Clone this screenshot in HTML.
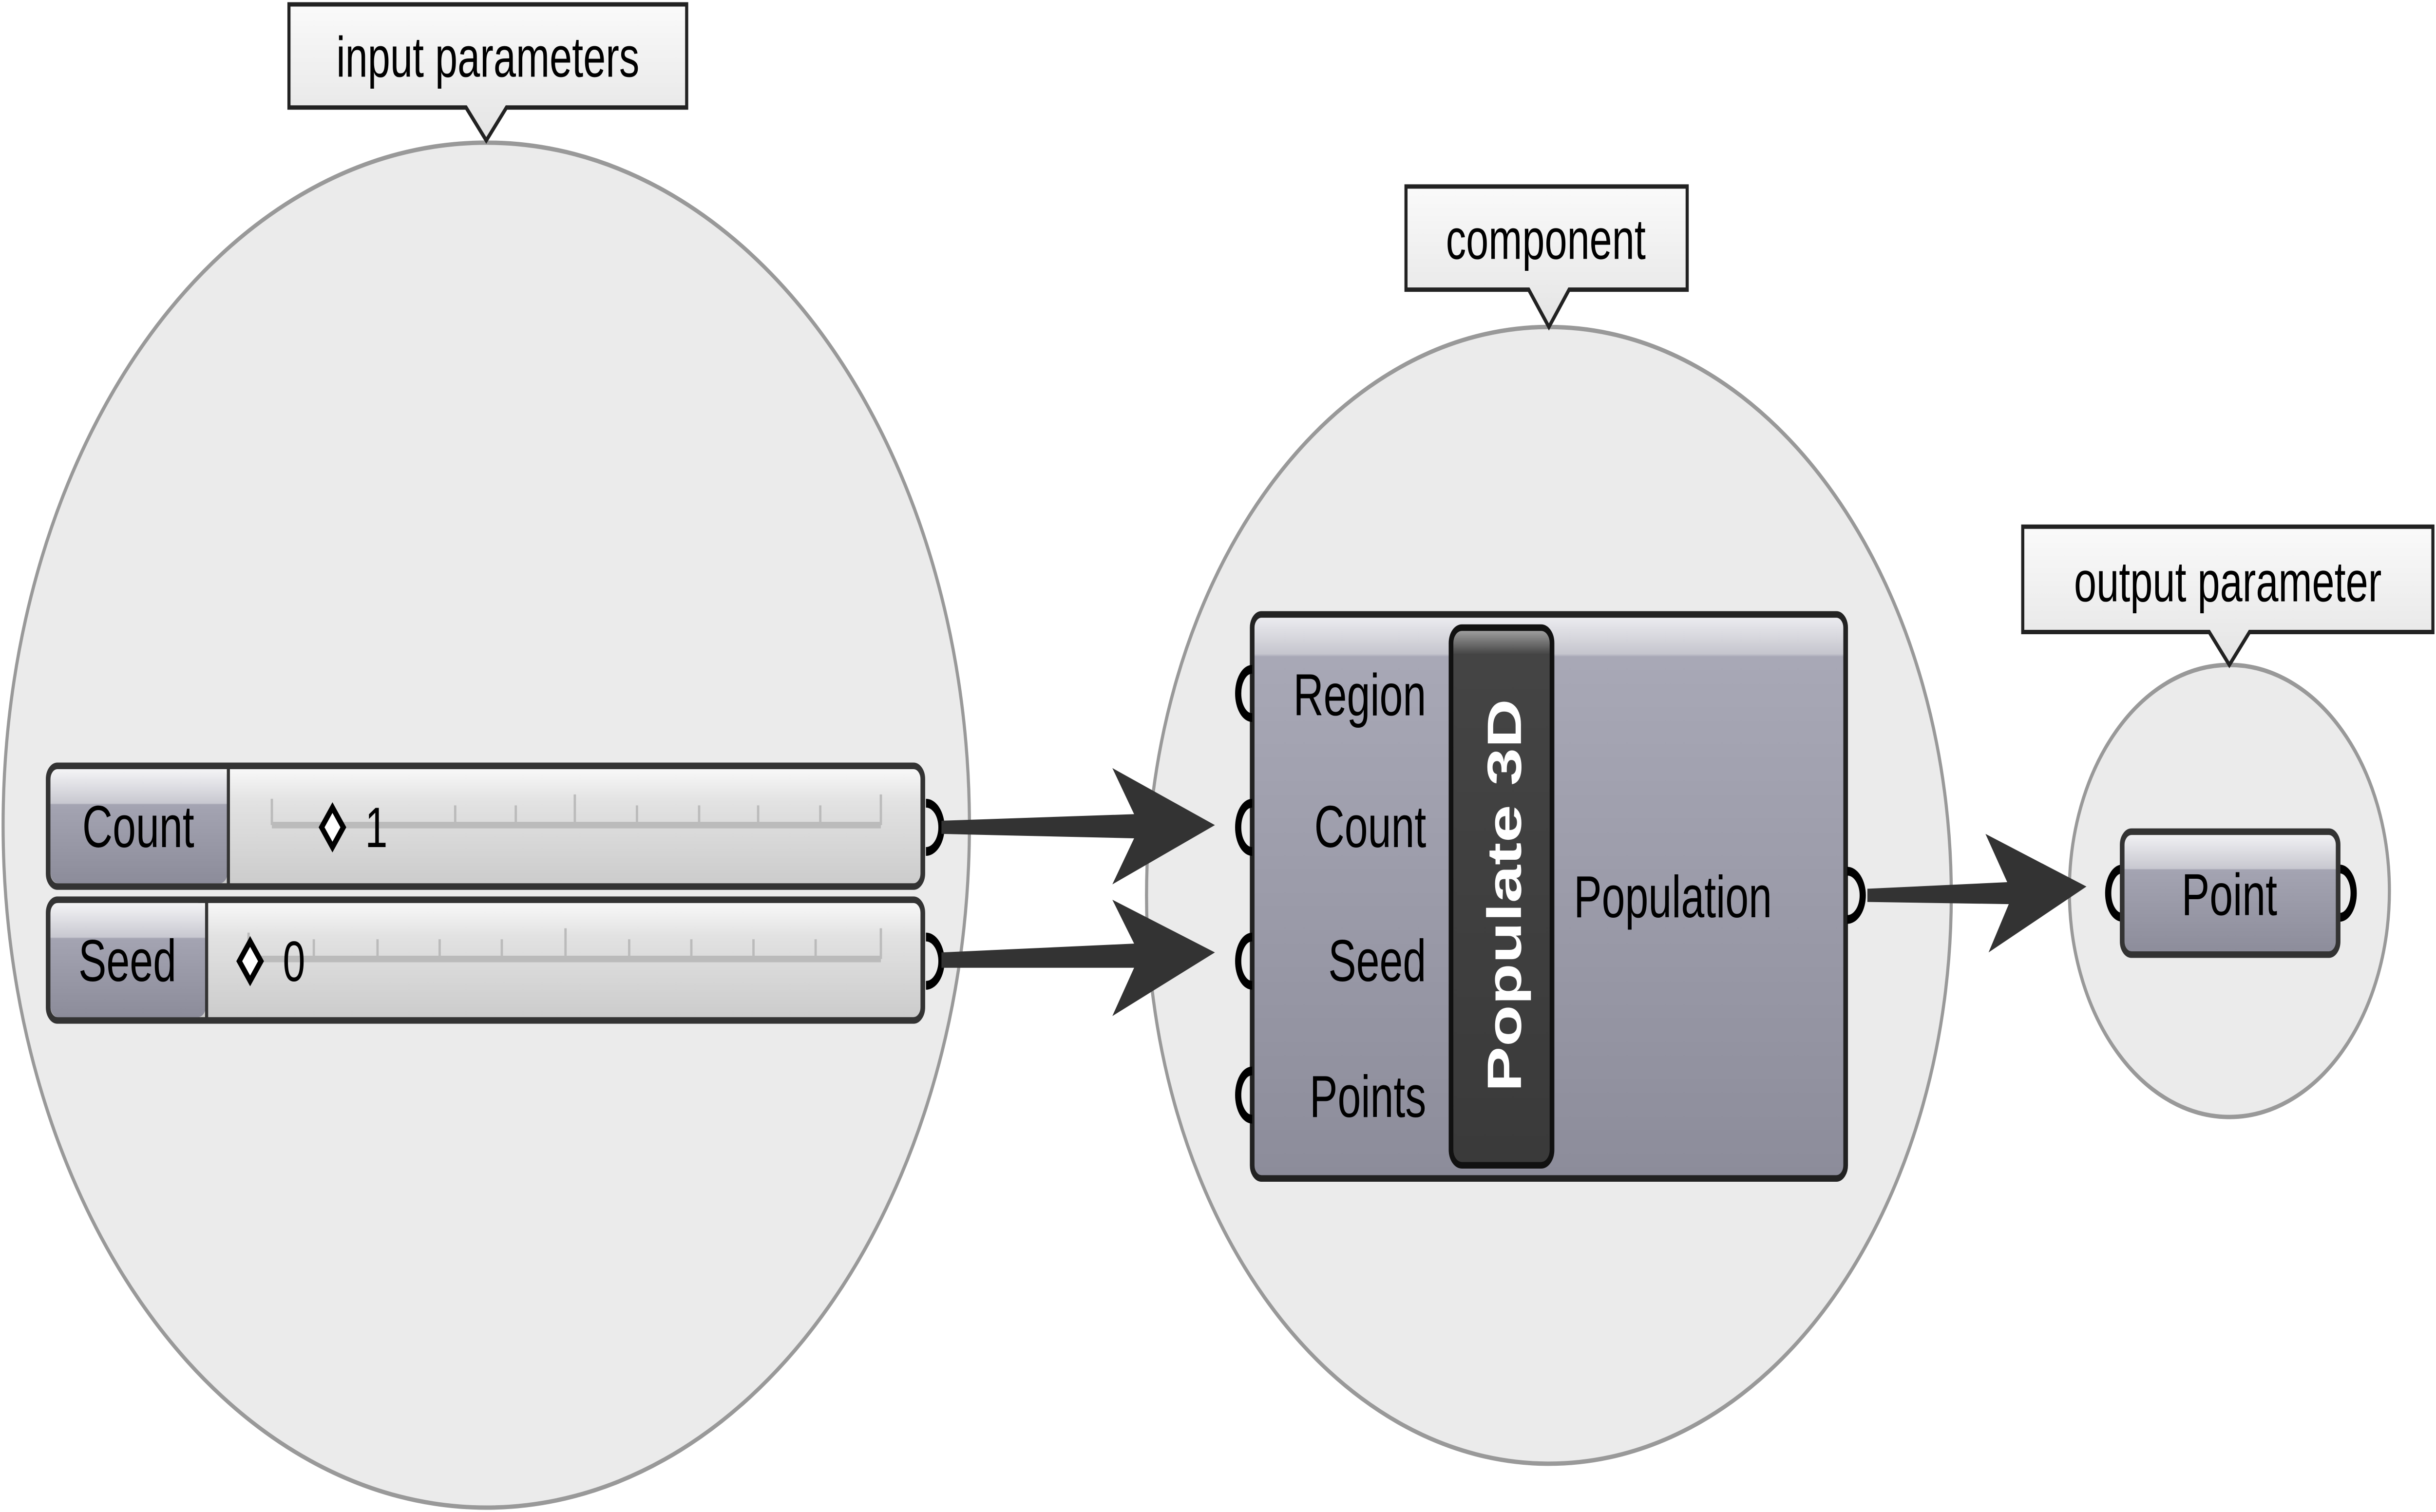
<!DOCTYPE html>
<html><head><meta charset="utf-8"><style>
html,body{margin:0;padding:0;background:#fff;width:100%;height:100%;overflow:hidden;}
svg{display:block;width:100vw;height:100vh;}
text{font-family:"Liberation Sans",sans-serif;}
</style></head><body>
<svg viewBox="0 0 1568 689" preserveAspectRatio="none" xmlns="http://www.w3.org/2000/svg">
<defs>
<linearGradient id="lab" x1="0" y1="0" x2="0" y2="1">
<stop offset="0" stop-color="#f4f4f6"/><stop offset="0.3" stop-color="#c8c8d0"/><stop offset="0.31" stop-color="#a4a4b2"/><stop offset="1" stop-color="#8c8c9a"/></linearGradient>
<linearGradient id="sl" x1="0" y1="0" x2="0" y2="1">
<stop offset="0" stop-color="#fafafa"/><stop offset="0.3" stop-color="#e2e2e2"/><stop offset="1" stop-color="#cbcbcb"/></linearGradient>
<linearGradient id="comp" x1="0" y1="0" x2="0" y2="1">
<stop offset="0" stop-color="#eeeef2"/><stop offset="0.07" stop-color="#c6c6ce"/><stop offset="0.075" stop-color="#a8a8b6"/><stop offset="1" stop-color="#8c8c9a"/></linearGradient>
<linearGradient id="strip" x1="0" y1="0" x2="0" y2="1">
<stop offset="0" stop-color="#aaa"/><stop offset="0.05" stop-color="#444"/><stop offset="1" stop-color="#3a3a3a"/></linearGradient>
<linearGradient id="tag" x1="0" y1="0" x2="0" y2="1">
<stop offset="0" stop-color="#fafafa"/><stop offset="1" stop-color="#e4e4e4"/></linearGradient>
</defs>
<rect width="1568" height="689" fill="#fff"/>
<circle cx="313" cy="376" r="311" fill="#ebebeb" stroke="#999" stroke-width="2"/>
<circle cx="997" cy="408" r="259" fill="#ebebeb" stroke="#999" stroke-width="2"/>
<circle cx="1435" cy="406" r="103" fill="#ebebeb" stroke="#999" stroke-width="2"/>

<g stroke="#222" stroke-width="2" fill="url(#tag)">
<path d="M186 2 H442 V49 H326 L313 64 L300 49 H186 Z"/>
<path d="M905 85 H1086 V132 H1010 L997 149 L984 132 H905 Z"/>
<path d="M1302 240 H1566 V288 H1448 L1435 303 L1422 288 H1302 Z"/>
</g>
<g font-size="26" fill="#000" text-anchor="middle">
<text x="314" y="35">input parameters</text>
<text x="995" y="118">component</text>
<text x="1434" y="274">output parameter</text>
</g>

<g>
<rect x="31" y="349" width="563" height="55" rx="6" fill="url(#sl)" stroke="#333" stroke-width="3"/>
<rect x="32.5" y="350.5" width="114" height="52" rx="5" fill="url(#lab)"/>
<line x1="147" y1="349" x2="147" y2="404" stroke="#333" stroke-width="2"/>
<text x="89" y="386" font-size="27" text-anchor="middle">Count</text>
<line x1="175" y1="376" x2="567" y2="376" stroke="#bbb" stroke-width="3"/>
<g stroke="#bbb" stroke-width="1.5">
<line x1="175" y1="364" x2="175" y2="376"/><line x1="293" y1="367" x2="293" y2="376"/><line x1="332" y1="367" x2="332" y2="376"/><line x1="370" y1="362" x2="370" y2="376"/><line x1="410" y1="367" x2="410" y2="376"/><line x1="450" y1="367" x2="450" y2="376"/><line x1="488" y1="367" x2="488" y2="376"/><line x1="528" y1="367" x2="528" y2="376"/><line x1="567" y1="362" x2="567" y2="376"/>
</g>
<path d="M214 368 L221 377 L214 386 L207 377 Z" fill="#fff" stroke="#000" stroke-width="3"/>
<text x="235" y="386" font-size="26">1</text>
<path d="M596 366 A10 11 0 0 1 596 388" fill="none" stroke="#000" stroke-width="4"/>

<rect x="31" y="410" width="563" height="55" rx="6" fill="url(#sl)" stroke="#333" stroke-width="3"/>
<rect x="32.5" y="411.5" width="100" height="52" rx="5" fill="url(#lab)"/>
<line x1="133" y1="410" x2="133" y2="465" stroke="#333" stroke-width="2"/>
<text x="82" y="447" font-size="27" text-anchor="middle">Seed</text>
<line x1="160" y1="437" x2="567" y2="437" stroke="#bbb" stroke-width="3"/>
<g stroke="#bbb" stroke-width="1.5">
<line x1="160" y1="425" x2="160" y2="437"/><line x1="202" y1="428" x2="202" y2="437"/><line x1="243" y1="428" x2="243" y2="437"/><line x1="283" y1="428" x2="283" y2="437"/><line x1="323" y1="428" x2="323" y2="437"/><line x1="364" y1="423" x2="364" y2="437"/><line x1="405" y1="428" x2="405" y2="437"/><line x1="445" y1="428" x2="445" y2="437"/><line x1="485" y1="428" x2="485" y2="437"/><line x1="525" y1="428" x2="525" y2="437"/><line x1="567" y1="423" x2="567" y2="437"/>
</g>
<path d="M161 429 L168 438 L161 447 L154 438 Z" fill="#fff" stroke="#000" stroke-width="3"/>
<text x="182" y="447" font-size="26">0</text>
<path d="M596 427 A10 11 0 0 1 596 449" fill="none" stroke="#000" stroke-width="4"/>
</g>

<g fill="#333">
<path d="M606 374 L730 371 L716 350 L782 376 L716 403 L730 382 L606 380 Z"/>
<path d="M606 434 L730 430 L716 410 L782 434 L716 463 L730 441 L606 441 Z"/>
<path d="M1202 405 L1292 402 L1278 380 L1343 404 L1280 434 L1293 412 L1202 411 Z"/>
</g>

<rect x="806" y="280" width="382" height="257" rx="6" fill="url(#comp)" stroke="#222" stroke-width="3"/>
<rect x="934" y="286" width="65" height="245" rx="7" fill="url(#strip)" stroke="#111" stroke-width="3"/>
<text transform="translate(979 408) rotate(-90)" font-size="31" font-weight="bold" fill="#fff" text-anchor="middle">Populate 3D</text>
<g font-size="27" text-anchor="end">
<text x="918" y="326">Region</text>
<text x="918" y="386">Count</text>
<text x="918" y="447">Seed</text>
<text x="918" y="509">Points</text>
</g>
<text x="1013" y="418" font-size="27">Population</text>
<g fill="none" stroke="#000" stroke-width="4">
<path d="M806 305 A9 11 0 0 0 806 327"/>
<path d="M806 366 A9 11 0 0 0 806 388"/>
<path d="M806 427 A9 11 0 0 0 806 449"/>
<path d="M806 488 A9 11 0 0 0 806 510"/>
<path d="M1189 397 A10 11 0 0 1 1189 419"/>
<path d="M1366 396 A9 11 0 0 0 1366 418"/>
<path d="M1506 396 A9 11 0 0 1 1506 418"/>
</g>

<rect x="1366" y="379" width="139" height="56" rx="6" fill="url(#lab)" stroke="#333" stroke-width="3"/>
<text x="1435" y="417" font-size="27" text-anchor="middle">Point</text>
</svg>
</body></html>
